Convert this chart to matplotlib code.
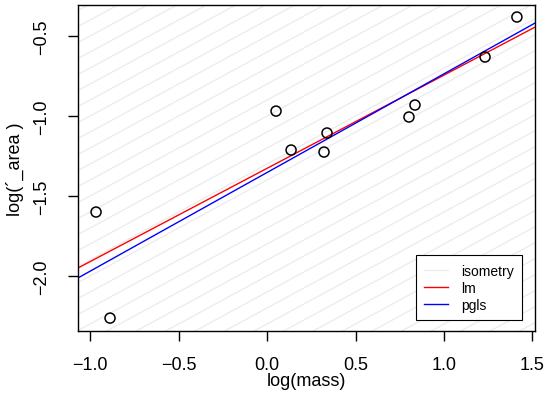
import matplotlib
matplotlib.use("Agg")
import matplotlib.pyplot as plt
import numpy as np

plt.rcParams['font.family'] = ['Liberation Sans', 'DejaVu Sans']

# data
log_mass = [-0.966, -0.887, 0.051, 0.136, 0.339, 0.322, 0.802, 0.836, 1.232, 1.412]
log_area = [-1.60, -2.263, -0.969, -1.2125, -1.106, -1.225, -1.006, -0.931, -0.631, -0.381]

lm_coef = (-1.327, 0.583)      # intercept, slope
pgls_coef = (-1.353, 0.617)
iso_slope = 0.6
iso_intercepts = np.arange(-5.0, 5.0, 0.1)

xlim = (-1.068, 1.514)
ylim = (-2.344, -0.306)

fig = plt.figure(figsize=(5.47, 4.02), dpi=100)
ax = fig.add_axes([0.1426, 0.174, 0.978 - 0.1426, 0.985 - 0.174])

xs = np.array(xlim)
for i, b in enumerate(iso_intercepts):
    ax.plot(xs, b + iso_slope * xs, color='#ebebeb', lw=0.9,
            label='isometry' if i == 0 else None, zorder=1)

ax.plot(xs, lm_coef[0] + lm_coef[1] * xs, color='red', lw=1, label='lm', zorder=2)
ax.plot(xs, pgls_coef[0] + pgls_coef[1] * xs, color='blue', lw=1, label='pgls', zorder=2)

ax.scatter(log_mass, log_area, s=52, facecolors='none', edgecolors='black',
           linewidths=1.1, zorder=3)

ax.set_xlim(xlim)
ax.set_ylim(ylim)
ax.set_xticks([-1.0, -0.5, 0.0, 0.5, 1.0, 1.5])
ax.set_xticklabels(['\u22121.0', '\u22120.5', '0.0', '0.5', '1.0', '1.5'])
ax.set_yticks([-2.0, -1.5, -1.0, -0.5])
ax.set_yticklabels(['\u22122.0', '\u22121.5', '\u22121.0', '\u22120.5'],
                   rotation=90, va='center')
ax.tick_params(direction='out', length=7, width=1, labelsize=13)
ax.tick_params(axis='x', pad=11)
ax.tick_params(axis='y', pad=13)
for s in ax.spines.values():
    s.set_linewidth(1)

ax.set_xlabel('log(mass)', fontsize=13)
ax.set_ylabel('log(\u00b4_area )', fontsize=13)
ax.xaxis.set_label_coords(0.5, -0.125)
ax.yaxis.set_label_coords(-0.118, 0.5)

leg = ax.legend(loc='lower right', bbox_to_anchor=(1 - 13 / 457, 11 / 326),
                borderaxespad=0, fontsize=10, frameon=True, fancybox=False,
                edgecolor='black', framealpha=1, handlelength=1.75,
                handletextpad=0.9, labelspacing=0.22, borderpad=0.6)
leg.get_frame().set_linewidth(0.8)

fig.savefig('out.png', dpi=100)
